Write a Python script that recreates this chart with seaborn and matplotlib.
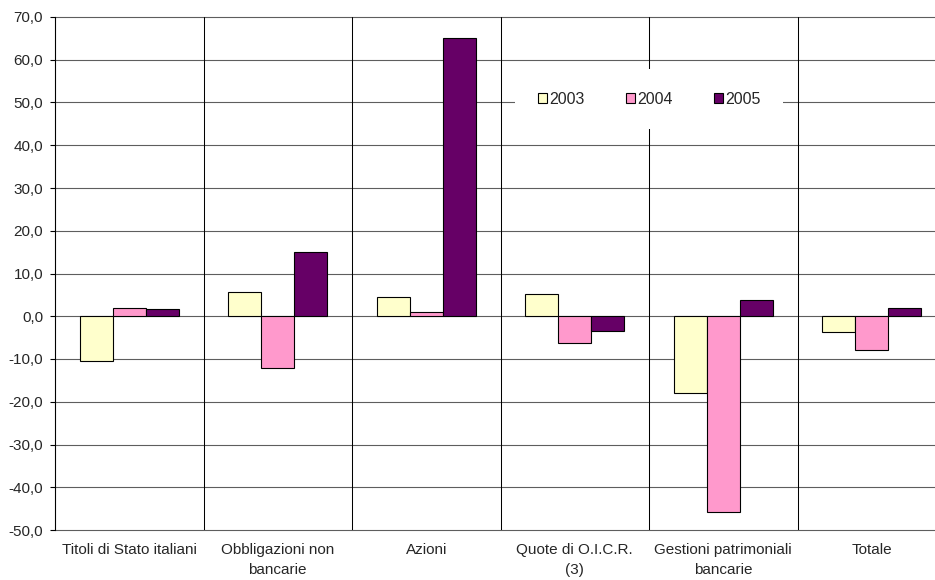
import matplotlib
matplotlib.use("Agg")
import matplotlib.pyplot as plt
from matplotlib.ticker import FuncFormatter, MultipleLocator
import pandas as pd
import seaborn as sns

# Variazioni percentuali per strumento finanziario
categorie = [
    "Titoli di Stato italiani",
    "Obbligazioni non\nbancarie",
    "Azioni",
    "Quote di O.I.C.R.\n(3)",
    "Gestioni patrimoniali\nbancarie",
    "Totale",
]
anni = ["2003", "2004", "2005"]
valori_2003 = [-10.5, 5.6, 4.5, 5.1, -18.0, -3.8]
valori_2004 = [2.0, -12.2, 0.9, -6.2, -45.7, -8.0]
valori_2005 = [1.8, 15.0, 65.0, -3.4, 3.8, 1.9]
colori = ["#FFFFCC", "#FF99CC", "#660066"]

df = pd.DataFrame({
    "categoria": categorie * 3,
    "anno": [a for a in anni for _ in categorie],
    "valore": valori_2003 + valori_2004 + valori_2005,
})

sns.set_style("white")
plt.rcParams["font.family"] = ["Liberation Sans", "DejaVu Sans"]
plt.rcParams["font.size"] = 11

fig = plt.figure(figsize=(9.35, 5.8), dpi=100)
ax = fig.add_axes([55 / 935, 50 / 580, 891 / 935, 513 / 580])

sns.barplot(
    data=df, x="categoria", y="valore", hue="anno",
    order=categorie, hue_order=anni, palette=colori, saturation=1,
    edgecolor="black", linewidth=0.8, width=0.667, gap=0,
    errorbar=None, ax=ax, zorder=3,
)

ax.set_xlim(-0.5, len(categorie) - 0.5)
ax.set_ylim(-50, 70)
ax.yaxis.set_major_locator(MultipleLocator(10))
ax.yaxis.set_major_formatter(FuncFormatter(lambda v, _: f"{v:.1f}".replace(".", ",")))

# griglia orizzontale e separatori tra le categorie
for v in range(-50, 71, 10):
    ax.axhline(v, color="#5e5e5e", lw=0.8, zorder=1, clip_on=False)
for b in range(1, len(categorie)):
    ax.axvline(b - 0.5, color="black", lw=0.75, zorder=1)

for side in ["top", "right", "bottom"]:
    ax.spines[side].set_visible(False)
ax.spines["left"].set_color("black")
ax.spines["left"].set_linewidth(0.8)

ax.set_xlabel("")
ax.set_ylabel("")
ax.tick_params(axis="y", left=True, length=3.6, width=0.8, pad=5, labelsize=11, color="black")
ax.tick_params(axis="x", bottom=False, pad=6, labelsize=11)
for t in ax.get_xticklabels():
    t.set_linespacing(1.55)
    t.set_verticalalignment("top")

handles, labels = ax.get_legend_handles_labels()
ax.legend(
    handles, labels, loc="center", bbox_to_anchor=(0.667, 0.84), ncol=3,
    frameon=True, facecolor="white", edgecolor="none", framealpha=1,
    fancybox=False, borderpad=1.4, handlelength=0.56, handleheight=0.56,
    handletextpad=0.15, columnspacing=2.6, fontsize=11.5,
)

fig.savefig("out.png", dpi=100, facecolor="white")
